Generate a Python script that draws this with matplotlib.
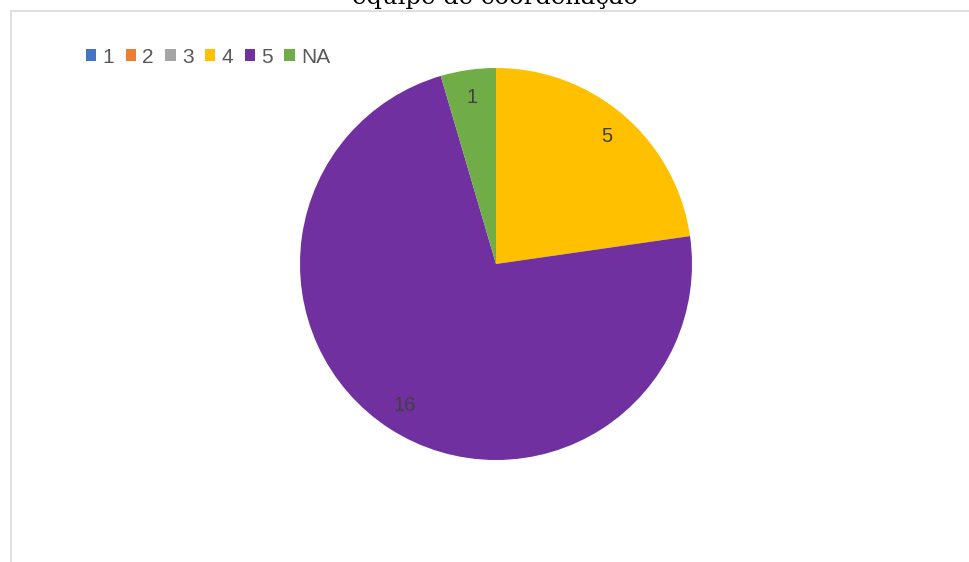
import matplotlib
matplotlib.use("Agg")
import matplotlib.pyplot as plt
from matplotlib.patches import Rectangle, Patch

categories = ["1", "2", "3", "4", "5", "NA"]
values = [0, 0, 0, 5, 16, 1]
colors = ["#4472C4", "#ED7D31", "#A5A5A5", "#FFC000", "#7030A0", "#70AD47"]
title = "equipe de coordenação"

W, H = 969, 562
fig = plt.figure(figsize=(W / 100, H / 100), dpi=100)
fig.patch.set_facecolor("white")

# chart border (clipped at right/bottom)
fig.add_artist(Rectangle((10.5 / W, -0.05), 1.0, 1.05 - 10.5 / H,
                         transform=fig.transFigure, fill=False,
                         edgecolor="#d9d9d9", linewidth=1.2))

# title (clipped at top, as in the reference)
fig.text(495 / W, 1 - 4 / H, title, ha="center", va="baseline",
         fontsize=17.5, family="DejaVu Serif", color="black")

cx, cy, r = 496, 264, 196
ax = fig.add_axes([(cx - r) / W, (H - cy - r) / H, 2 * r / W, 2 * r / H])
labels = [str(v) if v > 0 else "" for v in values]
wedges, texts = ax.pie(values, colors=colors, startangle=90, counterclock=False,
                       labels=labels, labeldistance=0.86,
                       wedgeprops=dict(linewidth=0),
                       textprops=dict(color="#404040", fontsize=14.5,
                                      family="Liberation Sans", ha="center", va="center"))
ax.set_xlim(-1, 1)
ax.set_ylim(-1, 1)
ax.axis("off")

handles = [Patch(facecolor=c, edgecolor="none") for c in colors]
leg = fig.legend(handles, categories, loc="upper left",
                 bbox_to_anchor=(67 / W, 1 - 29 / H), ncol=6, frameon=False,
                 handlelength=0.5, handleheight=0.5, handletextpad=0.3,
                 columnspacing=0.55,
                 prop=dict(family="Liberation Sans", size=15))
for t in leg.get_texts():
    t.set_color("#595959")

fig.savefig("out.png", dpi=100, facecolor="white")
